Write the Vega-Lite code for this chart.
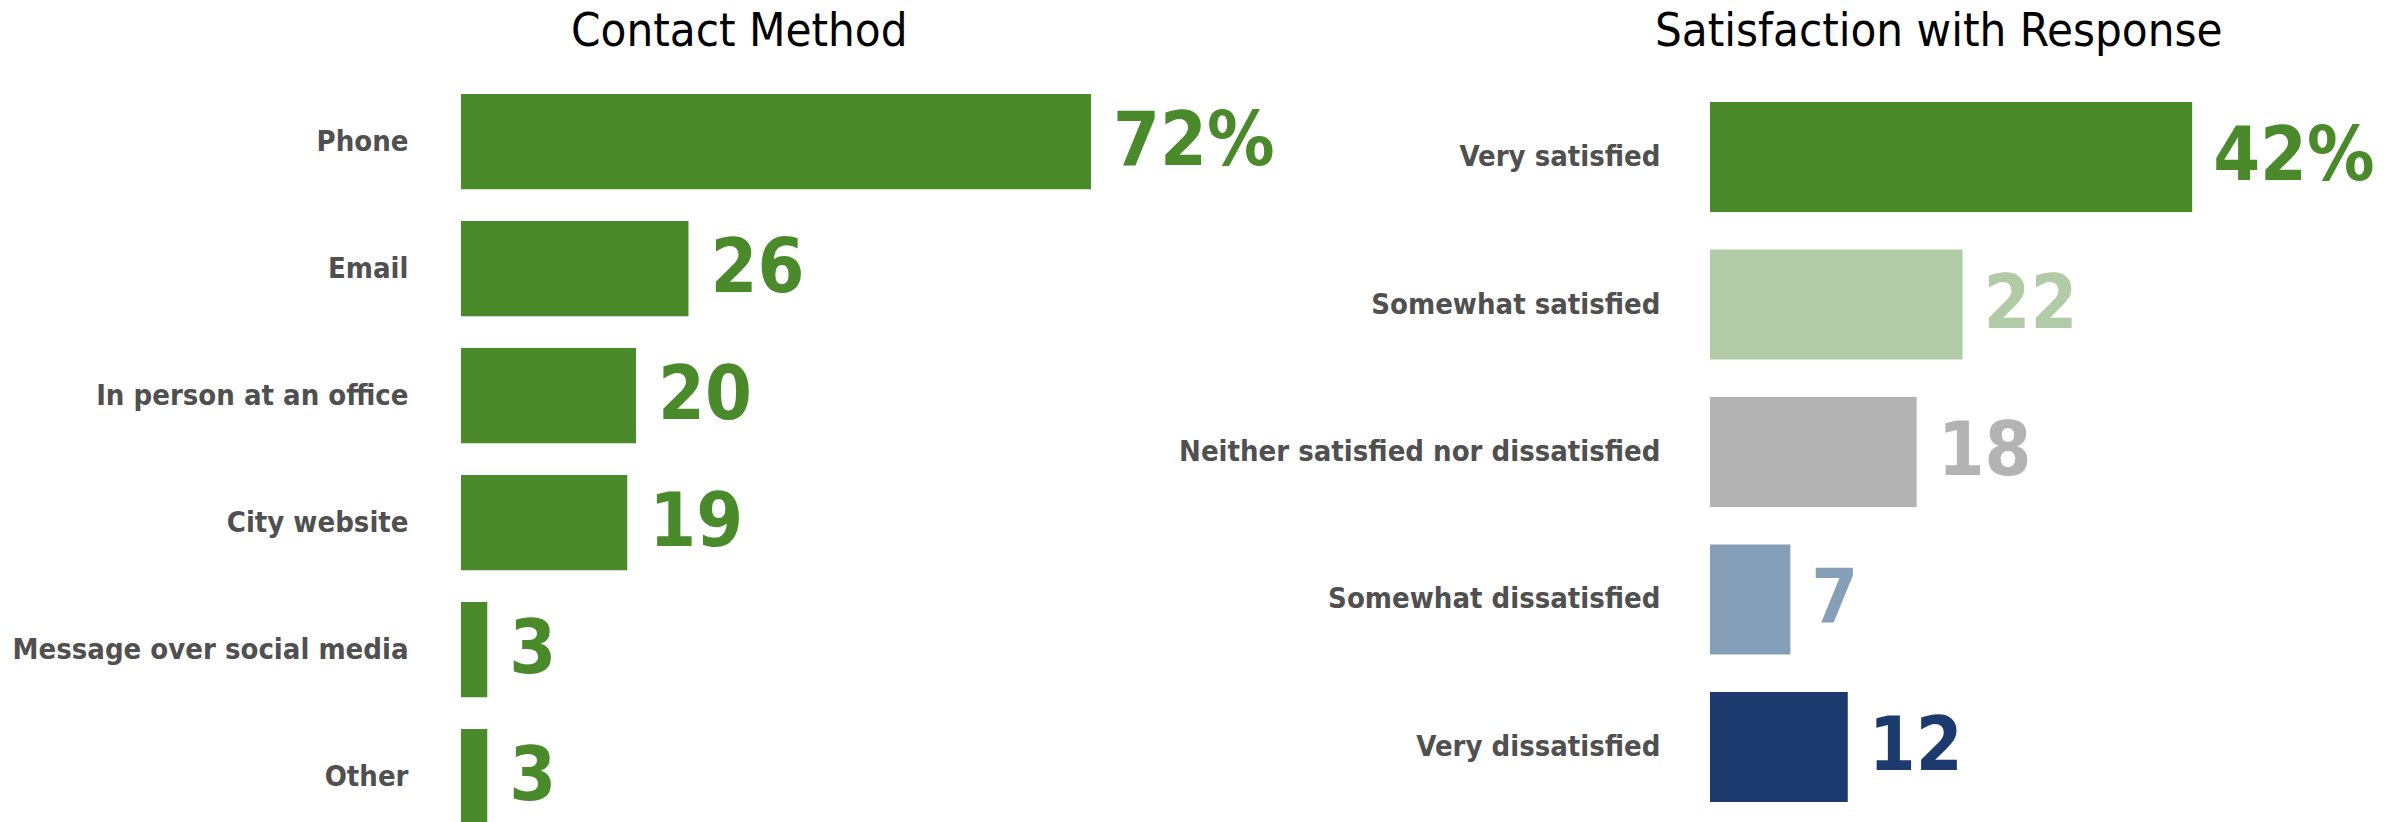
{
  "$schema": "https://vega.github.io/schema/vega-lite/v6.json",
  "padding": {"left": 12, "top": 8, "right": 10, "bottom": 0},
  "background": "white",
  "config": {
    "view": {"stroke": null},
    "font": "DejaVu Sans Condensed, Roboto"
  },
  "spacing": 549,
  "bounds": "flush",
  "hconcat": [
    {
      "title": {"text": "Contact Method", "anchor": "start", "frame": "group", "dx": 110, "fontSize": 47, "font": "DejaVu Sans Condensed, Roboto", "fontWeight": "normal", "color": "#000000", "baseline": "alphabetic", "offset": -15},
      "width": 700,
      "height": 762,
      "data": {"values": [
        {"method": "Phone", "pct": 72, "label": "72%"},
        {"method": "Email", "pct": 26, "label": "26"},
        {"method": "In person at an office", "pct": 20, "label": "20"},
        {"method": "City website", "pct": 19, "label": "19"},
        {"method": "Message over social media", "pct": 3, "label": "3"},
        {"method": "Other", "pct": 3, "label": "3"}
      ]},
      "encoding": {
        "y": {"field": "method", "type": "nominal", "sort": null,
          "scale": {"paddingInner": 0.25, "paddingOuter": 0.125},
          "axis": {"title": null, "domain": false, "ticks": false, "labelFontSize": 29, "labelFont": "DejaVu Sans Condensed, Roboto", "labelFontWeight": "bold", "labelColor": "#505050", "labelPadding": 53, "labelLimit": 0}},
        "x": {"field": "pct", "type": "quantitative", "scale": {"domain": [0, 80]}, "axis": null}
      },
      "layer": [
        {"mark": {"type": "bar", "color": "#4a8a2b"}},
        {"mark": {"type": "text", "align": "left", "baseline": "middle", "dx": 22, "fontSize": 75, "fontWeight": "bold", "font": "DejaVu Sans Condensed, Roboto", "color": "#4a8a2b"},
          "encoding": {"text": {"field": "label"}}}
      ]
    },
    {
      "title": {"text": "Satisfaction with Response", "anchor": "start", "frame": "group", "dx": -55, "fontSize": 47, "font": "DejaVu Sans Condensed, Roboto", "fontWeight": "normal", "color": "#000000", "baseline": "alphabetic", "offset": -15},
      "width": 574,
      "height": 748,
      "data": {"values": [
        {"level": "Very satisfied", "pct": 42, "label": "42%"},
        {"level": "Somewhat satisfied", "pct": 22, "label": "22"},
        {"level": "Neither satisfied nor dissatisfied", "pct": 18, "label": "18"},
        {"level": "Somewhat dissatisfied", "pct": 7, "label": "7"},
        {"level": "Very dissatisfied", "pct": 12, "label": "12"}
      ]},
      "encoding": {
        "y": {"field": "level", "type": "nominal", "sort": null,
          "scale": {"paddingInner": 0.254, "paddingOuter": 0.163},
          "axis": {"title": null, "domain": false, "ticks": false, "labelFontSize": 29, "labelFont": "DejaVu Sans Condensed, Roboto", "labelFontWeight": "bold", "labelColor": "#505050", "labelPadding": 50, "labelLimit": 0}},
        "x": {"field": "pct", "type": "quantitative", "scale": {"domain": [0, 50]}, "axis": null},
        "color": {"field": "level", "type": "nominal", "legend": null,
          "scale": {"domain": ["Very satisfied", "Somewhat satisfied", "Neither satisfied nor dissatisfied", "Somewhat dissatisfied", "Very dissatisfied"],
                    "range": ["#4a8a2b", "#b0cba5", "#b3b3b3", "#869fb8", "#1c3a6e"]}}
      },
      "layer": [
        {"mark": {"type": "bar"}},
        {"mark": {"type": "text", "align": "left", "baseline": "middle", "dx": 21, "fontSize": 75, "fontWeight": "bold", "font": "DejaVu Sans Condensed, Roboto"},
          "encoding": {"text": {"field": "label"}}}
      ]
    }
  ]
}
